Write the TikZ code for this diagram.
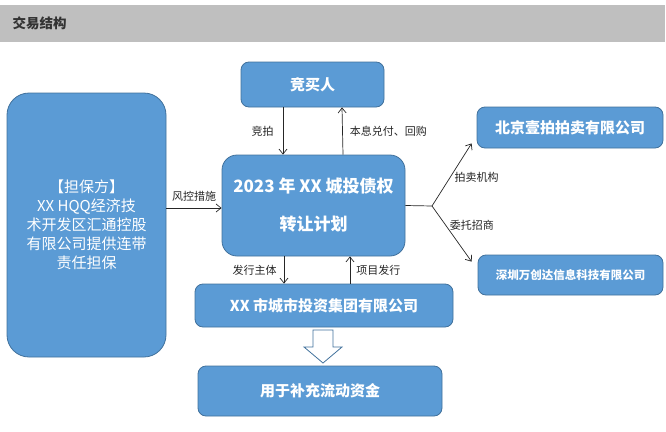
\documentclass[tikz,border=0pt]{standalone}
\usepackage{fontspec}
\setmainfont{Noto Sans CJK SC}
\usetikzlibrary{arrows.meta,positioning}
\definecolor{boxblue}{HTML}{5B9BD5}
\definecolor{boxline}{HTML}{41719C}
\definecolor{headgray}{HTML}{BFBFBF}
\begin{document}
\begin{tikzpicture}[x=1pt, y=-1pt, >={Straight Barb[length=5pt,width=8pt]},
  bluebox/.style={draw=boxline, fill=boxblue, line width=.8pt, text=white, rounded corners=8pt, inner sep=0pt, align=center},
  lbl/.style={font=\fontsize{11}{13}\selectfont, inner sep=0pt},
  conn/.style={line width=.7pt, black!85}]
\useasboundingbox (0,0) rectangle (666,431);
% header
\fill[headgray] (0,5) rectangle (665,42);
\node[anchor=west, text=black!80, font=\bfseries\fontsize{13.5}{15}\selectfont] (title) at (9,23) {交易结构};
% boxes
\node[bluebox, rounded corners=22pt, minimum width=159, minimum height=264, font=\fontsize{15}{19}\selectfont] (guar) at (86.5,225) {【担保方】\\XX HQQ经济技\\术开发区汇通控股\\有限公司提供连带\\责任担保};
\node[bluebox, minimum width=143, minimum height=45, font=\bfseries\fontsize{15}{17}\selectfont] (buyer) at (312.5,84.5) {竞买人};
\node[bluebox, rounded corners=15pt, minimum width=183, minimum height=101, font=\bfseries\fontsize{17}{38}\selectfont] (plan) at (313.5,205.5) {2023 年 XX 城投债权\\转让计划};
\node[bluebox, minimum width=186, minimum height=41, font=\bfseries\fontsize{15}{17}\selectfont] (auction) at (570,127.5) {北京壹拍拍卖有限公司};
\node[bluebox, minimum width=185, minimum height=40, font=\bfseries\fontsize{11.5}{13}\selectfont] (agent) at (570.5,275) {深圳万创达信息科技有限公司};
\node[bluebox, minimum width=258, minimum height=43, font=\bfseries\fontsize{15}{17}\selectfont] (issuer) at (324,305.5) {XX 市城市投资集团有限公司};
\node[bluebox, minimum width=244, minimum height=50, font=\bfseries\fontsize{15}{17}\selectfont] (use) at (320,391) {用于补充流动资金};
% connectors
\draw[conn, ->] ([xshift=-29.5]buyer.south) -- node[lbl, left=9pt]{竞拍} ([xshift=-30.5]plan.north);
\draw[conn, ->] ([xshift=29.5]plan.north) -- node[lbl, right=7pt]{本息兑付、回购} ([xshift=29.5]buyer.south);
\draw[conn, ->] (guar.east |- 0,208) -- node[lbl, above=6pt]{风控措施} (plan.west |- 0,208);
\coordinate (fork) at (432,206);
\draw[conn] (plan.east) -- (fork);
\draw[conn, ->] (fork) -- node[lbl, pos=.46, right=4pt]{拍卖机构} ([xshift=-5,yshift=5]auction.south west);
\draw[conn, ->] (fork) -- node[lbl, pos=.34, right=4pt]{委托招商} ([xshift=-6,yshift=-7]agent.north west);
\draw[conn, ->] ([xshift=-29.5]plan.south) -- node[lbl, left=7pt]{发行主体} ([xshift=-40]issuer.north);
\draw[conn, ->] ([xshift=26]issuer.north) -- node[lbl, right=6pt]{项目发行} ([xshift=36.5]plan.south);
% hollow arrow
\draw[boxline, fill=white, line width=.8pt] (313,330) -- (333,330) -- (333,347) -- (342,347) -- (323,363) -- (304,347) -- (313,347) -- cycle;
\end{tikzpicture}
\end{document}
